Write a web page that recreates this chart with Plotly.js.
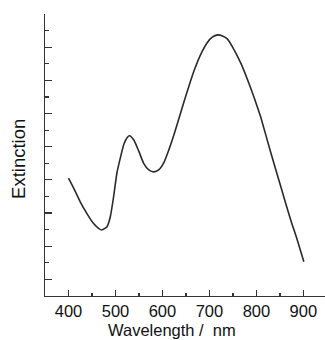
<!DOCTYPE html>
<html>
<head>
<meta charset="utf-8">
<script src="https://cdn.plot.ly/plotly-3.0.1.min.js"></script>
<style>html,body{margin:0;padding:0;background:#fff;}#chart{width:325px;height:340px;}</style>
</head>
<body>
<div id="chart"></div>
<script>
const wavelength = [400, 411, 425, 439, 453, 464, 471, 482, 489, 496, 503, 511, 518, 525, 530, 539, 550, 560, 571, 582, 592, 603, 614, 625, 646, 667, 682, 696, 706, 717, 728, 738, 749, 767, 784, 802, 809, 831, 852, 873, 887, 901];
const extinction = [3.05, 2.75, 2.34, 1.99, 1.69, 1.54, 1.49, 1.59, 1.89, 2.49, 3.2, 3.7, 4.08, 4.28, 4.33, 4.2, 3.85, 3.5, 3.3, 3.24, 3.3, 3.52, 3.92, 4.38, 5.36, 6.28, 6.8, 7.15, 7.3, 7.37, 7.34, 7.25, 7.01, 6.51, 5.91, 5.2, 4.9, 3.8, 2.79, 1.79, 1.19, 0.53];
const xTickVals = [400, 500, 600, 700, 800, 900];
const xTitle = 'Wavelength\u00A0/\u00A0\u00A0nm';
const yTitle = 'Extinction';

const trace = {
  x: wavelength, y: extinction, type: 'scatter', mode: 'lines',
  line: {color: '#2a2a2a', width: 1.6, shape: 'spline', smoothing: 0.6},
  hoverinfo: 'skip'
};
const fam = 'Liberation Sans, Arial, sans-serif';
const layout = {
  width: 325, height: 340,
  margin: {l: 45, r: 0, t: 14, b: 44},
  paper_bgcolor: '#fff', plot_bgcolor: '#fff',
  showlegend: false,
  font: {family: fam, color: '#111'},
  xaxis: {
    range: [350, 946], showgrid: false, zeroline: false,
    showline: true, linecolor: '#333', linewidth: 1.2,
    tickmode: 'array', tickvals: xTickVals, ticktext: xTickVals.map(String),
    ticks: 'inside', ticklen: 6, tickwidth: 1.2, tickcolor: '#333',
    minor: {dtick: 100, tick0: 450, ticks: 'inside', ticklen: 3, tickwidth: 1.2, tickcolor: '#333', showgrid: false},
    tickfont: {size: 16.5, family: fam, color: '#111'},
    fixedrange: true
  },
  yaxis: {
    range: [-0.5, 8], showgrid: false, zeroline: false,
    showline: true, linecolor: '#333', linewidth: 1.2,
    tickmode: 'linear', tick0: 0, dtick: 1,
    ticks: 'inside', ticklen: 7, tickwidth: 1.2, tickcolor: '#333',
    minor: {dtick: 0.5, tick0: 0, ticks: 'inside', ticklen: 4, tickwidth: 1.2, tickcolor: '#333', showgrid: false},
    showticklabels: false,
    fixedrange: true
  },
  annotations: [
    {text: xTitle, xref: 'paper', yref: 'paper', x: 0.455, y: -0.121, xanchor: 'center', yanchor: 'middle',
     showarrow: false, borderpad: 0, font: {size: 16.5, family: fam, color: '#111'}},
    {text: yTitle, xref: 'paper', yref: 'paper', x: -0.093, y: 0.486, xanchor: 'center', yanchor: 'middle',
     textangle: -90, showarrow: false, font: {size: 18.5, family: fam, color: '#111'}}
  ]
};
Plotly.newPlot('chart', [trace], layout, {displayModeBar: false, staticPlot: true});
</script>
</body>
</html>
